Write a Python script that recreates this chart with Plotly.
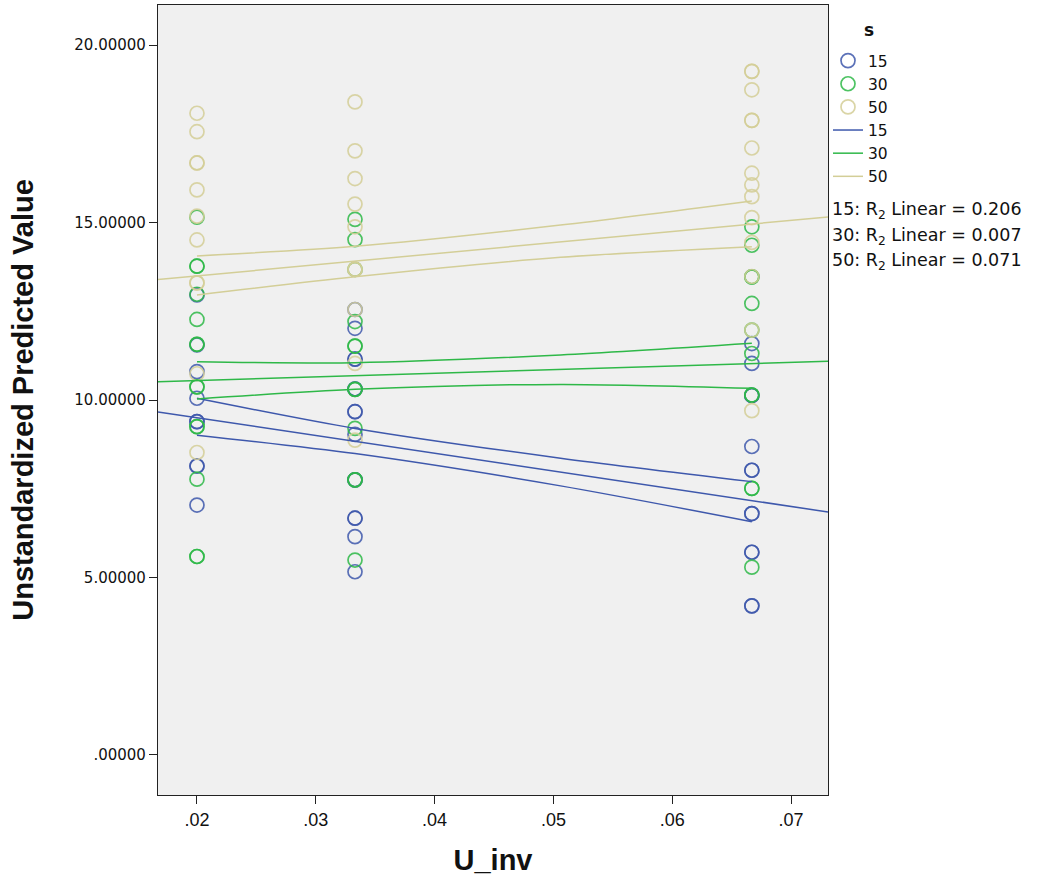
import plotly.graph_objects as go

# ---------------- data ----------------
groups = ["15", "30", "50"]
colors = {"15": "#3E58AC", "30": "#2EB848", "50": "#D3CE97"}

# predicted values per group, per U_inv level
u_levels = [0.02, 0.0333, 0.0667]

vals_15_u1 = [12.96, 11.55, 10.80, 10.05, 9.39, 9.39, 8.14, 8.14, 7.04]
vals_15_u2 = [12.55, 12.02, 11.15, 11.15, 10.31, 10.31, 9.67, 9.67, 9.03, 7.75, 7.75, 6.67, 6.67, 6.15, 5.16]
vals_15_u3 = [11.59, 11.03, 10.13, 10.13, 8.69, 8.02, 8.02, 6.80, 6.80, 5.71, 5.71, 4.20, 4.20]

vals_30_u1 = [15.15, 13.77, 13.77, 12.98, 12.27, 11.57, 11.57, 10.37, 10.37, 9.25, 9.25, 7.77, 5.59, 5.59]
vals_30_u2 = [15.09, 14.52, 13.68, 12.21, 11.52, 11.52, 10.30, 10.30, 9.20, 7.75, 7.75, 5.49]
vals_30_u3 = [14.88, 14.36, 13.47, 13.47, 12.72, 11.97, 11.31, 10.14, 10.14, 7.51, 7.51, 5.29]

vals_50_u1 = [18.08, 17.56, 16.68, 16.68, 15.92, 15.18, 14.51, 13.30, 13.30, 10.74, 8.52]
vals_50_u2 = [18.40, 17.02, 16.24, 15.52, 14.88, 13.68, 13.68, 12.55, 11.03, 8.87]
vals_50_u3 = [19.26, 19.26, 18.74, 17.88, 17.88, 17.10, 16.39, 16.06, 15.73, 15.14, 14.44, 13.48, 11.97, 9.70]

values = {
    "15": [vals_15_u1, vals_15_u2, vals_15_u3],
    "30": [vals_30_u1, vals_30_u2, vals_30_u3],
    "50": [vals_50_u1, vals_50_u2, vals_50_u3],
}

# linear fit lines (intercept at U_inv = 0, slope)
fit_intercept = {"15": 10.50, "30": 10.34, "50": 12.87}
fit_slope = {"15": -50.0, "30": 10.3, "50": 31.3}

# 95% mean confidence bands, read at these U_inv positions
ci_x = [0.02, 0.0333, 0.0506, 0.0667]
ci_upper = {
    "15": [10.05, 9.20, 8.36, 7.70],
    "30": [11.08, 11.05, 11.27, 11.60],
    "50": [14.06, 14.33, 14.93, 15.61],
}
ci_lower = {
    "15": [9.01, 8.49, 7.58, 6.57],
    "30": [10.03, 10.30, 10.44, 10.33],
    "50": [12.96, 13.47, 14.02, 14.32],
}
r2 = {"15": 0.206, "30": 0.007, "50": 0.071}
legend_title = "s"

x_range = [0.01672, 0.07311]
y_range = [-1.13, 21.13]
x_ticks = [0.02, 0.03, 0.04, 0.05, 0.06, 0.07]
y_ticks = [0, 5, 10, 15, 20]

# ---------------- figure ----------------
fig = go.Figure()


def alpha(hexc, a):
    h = hexc.lstrip("#")
    r, g, b = int(h[0:2], 16), int(h[2:4], 16), int(h[4:6], 16)
    return f"rgba({r},{g},{b},{a})"


for g in groups:
    xs, ys = [], []
    for u, col in zip(u_levels, values[g]):
        xs += [u] * len(col)
        ys += col
    fig.add_trace(go.Scatter(
        x=xs, y=ys, mode="markers", name=g, legendgroup="pts",
        marker=dict(symbol="circle-open", size=14,
                    color=alpha(colors[g], 0.85),
                    line=dict(width=1.7, color=alpha(colors[g], 0.85))),
    ))

for g in groups:
    fx = x_range
    fy = [fit_intercept[g] + fit_slope[g] * v for v in fx]
    fig.add_trace(go.Scatter(
        x=fx, y=fy, mode="lines", name=g, legendgroup="lines",
        line=dict(color=colors[g], width=1.5),
    ))
    fig.add_trace(go.Scatter(
        x=ci_x, y=ci_upper[g], mode="lines", showlegend=False,
        line=dict(color=colors[g], width=1.5, shape="spline", smoothing=0.8),
    ))
    fig.add_trace(go.Scatter(
        x=ci_x, y=ci_lower[g], mode="lines", showlegend=False,
        line=dict(color=colors[g], width=1.5, shape="spline", smoothing=0.8),
    ))


def ylab(v):
    s = f"{v:.5f}"
    return s[1:] if s.startswith("0") else s


def xlab(v):
    s = f"{v:.2f}"
    return s[1:] if s.startswith("0") else s


fig.update_xaxes(
    range=x_range, tickvals=x_ticks, ticktext=[xlab(v) for v in x_ticks],
    ticks="outside", ticklen=8, tickwidth=1, tickcolor="#222",
    showline=True, mirror=True, linecolor="#222", linewidth=1.2,
    showgrid=False, zeroline=False,
    tickfont=dict(family="Liberation Sans Narrow, Liberation Sans, Arial", size=18, color="#111"),
    title=dict(text="<b>U_inv</b>", standoff=20,
               font=dict(family="Liberation Sans Narrow, Liberation Sans, Arial", size=29, color="#111")),
)
fig.update_yaxes(
    range=y_range, tickvals=y_ticks, ticktext=[ylab(v) for v in y_ticks],
    ticks="outside", ticklen=8, tickwidth=1, tickcolor="#222",
    showline=True, mirror=True, linecolor="#222", linewidth=1.2,
    showgrid=False, zeroline=False,
    tickfont=dict(family="DejaVu Sans", size=15, color="#111"),
    title=dict(text="<b>Unstandardized Predicted Value</b>", standoff=32,
               font=dict(family="Liberation Sans Narrow, Liberation Sans, Arial", size=29, color="#111")),
)

ann = [dict(
    xref="paper", yref="paper", x=(862 - 158) / 670, y=(795 - 30) / 790,
    xanchor="left", yanchor="middle", showarrow=False,
    text=f"<b>{legend_title}</b>",
    font=dict(family="DejaVu Sans", size=17, color="#111"),
)]
for i, g in enumerate(groups):
    ann.append(dict(
        xref="paper", yref="paper", x=1.003, y=(795 - 211 - 25 * i) / 790,
        xanchor="left", yanchor="middle", showarrow=False,
        text=f"{g}: R<sub>2</sub> Linear = {r2[g]:.3f}",
        font=dict(family="DejaVu Sans", size=17.5, color="#111"),
    ))

fig.update_layout(
    width=1042, height=879,
    margin=dict(l=158, r=214, t=5, b=84, autoexpand=False),
    paper_bgcolor="white", plot_bgcolor="#F0F0F0",
    showlegend=True,
    legend=dict(
        x=1.0, xanchor="left", y=(795 - 44) / 790, yanchor="top",
        bgcolor="rgba(0,0,0,0)", tracegroupgap=0,
        font=dict(family="DejaVu Sans", size=15.5, color="#111"),
        itemwidth=30,
    ),
    annotations=ann,
)

fig.write_html("out.html")
